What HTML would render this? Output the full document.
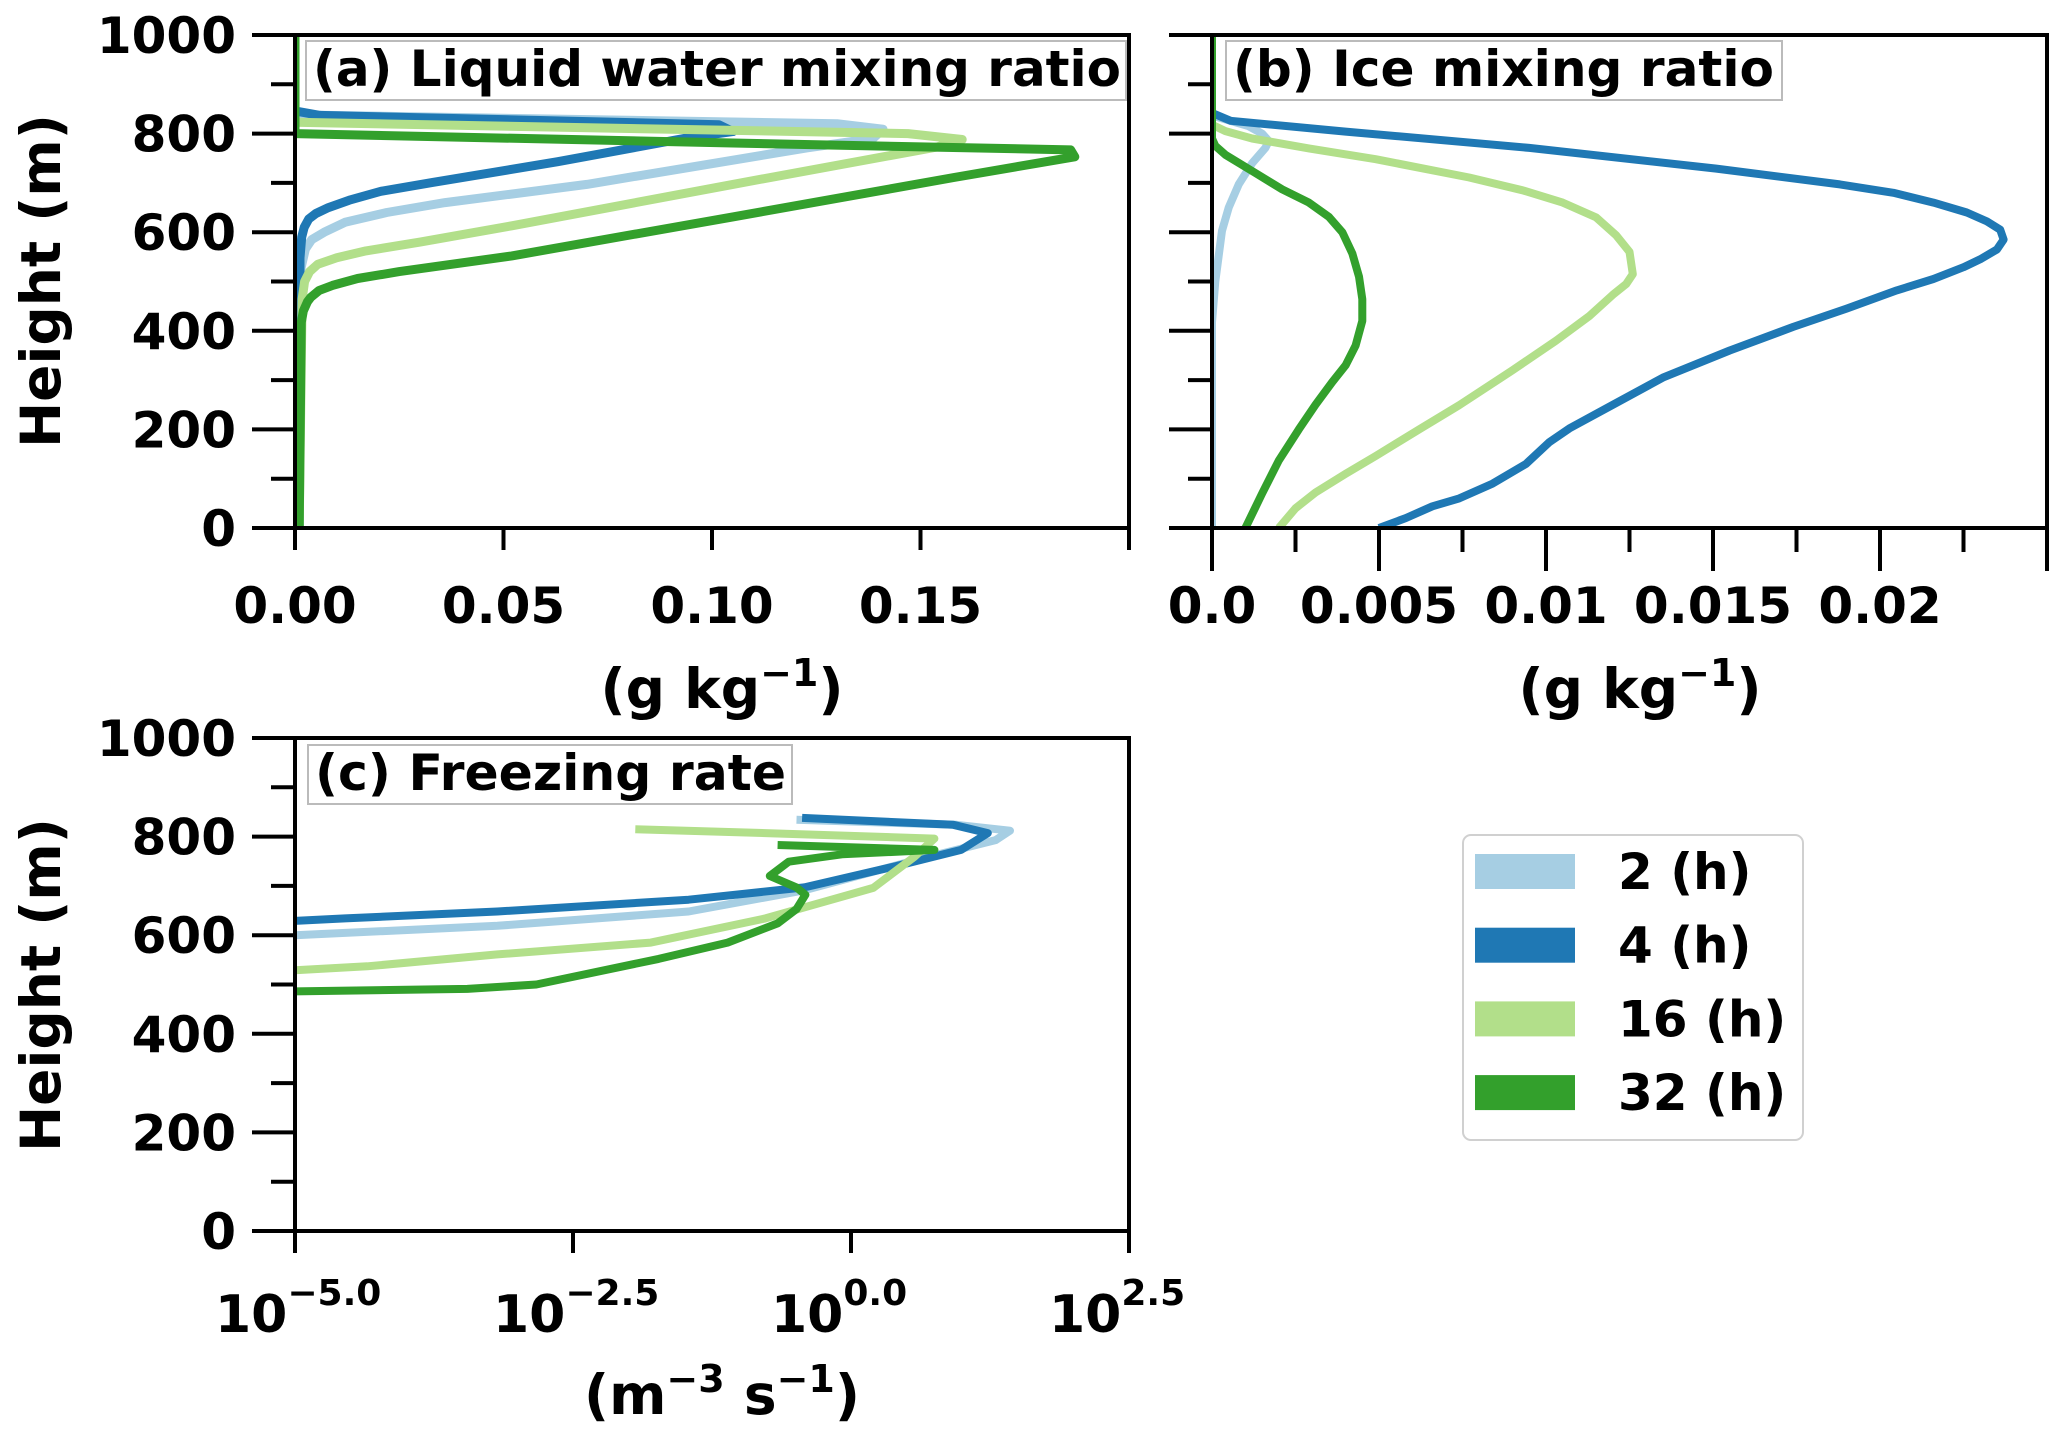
<!DOCTYPE html>
<html><head><meta charset="utf-8">
<style>
html,body{margin:0;padding:0;background:#fff;}
svg{display:block;font-family:"DejaVu Sans","Liberation Sans",sans-serif;font-weight:bold;}
</style></head>
<body>
<svg id="fig" width="2067" height="1445" viewBox="0 0 2067 1445" xmlns="http://www.w3.org/2000/svg">
<defs>
<clipPath id="clipA"><rect x="295" y="35" width="834" height="493"/></clipPath>
<clipPath id="clipB"><rect x="1212" y="35" width="835" height="493"/></clipPath>
<clipPath id="clipC"><rect x="295" y="738" width="834" height="493"/></clipPath>
</defs>
<g id="layer"></g>
</svg>
<script>
// ---------- data ----------
const seriesNames = ["2 (h)", "4 (h)", "16 (h)", "32 (h)"];
const seriesColors = ["#a6cee3", "#1f78b4", "#b2df8a", "#33a02c"];

// Panel (a) liquid water mixing ratio (g/kg) vs height (m)
const a2h_z = [1000, 838, 820, 809, 790, 771, 697, 660, 640, 620, 600, 585, 566, 530, 500, 0];
const a2h_v = [0, 0, 0.13, 0.141, 0.1386, 0.1227, 0.07, 0.036, 0.022, 0.012, 0.007, 0.004, 0.0025, 0.0015, 0.001, 0.001];
const a4h_z = [1000, 846, 837, 818, 804, 792, 743, 701, 683, 665, 650, 638, 627, 610, 590, 548, 0];
const a4h_v = [0, 0, 0.006, 0.1016, 0.105, 0.0945, 0.063, 0.033, 0.0206, 0.013, 0.008, 0.005, 0.0033, 0.0022, 0.0016, 0.0012, 0.001];
const a16h_z = [1000, 823, 800, 788, 773, 697, 613, 580, 562, 548, 535, 520, 500, 464, 0];
const a16h_v = [0, 0, 0.147, 0.16, 0.154, 0.105, 0.052, 0.03, 0.017, 0.010, 0.0055, 0.0035, 0.0023, 0.0017, 0.001];
const a32h_z = [1000, 800, 781, 767, 753, 711, 631, 552, 520, 506, 492, 482, 468, 459, 440, 417, 0];
const a32h_v = [0, 0, 0.105, 0.186, 0.187, 0.158, 0.105, 0.052, 0.025, 0.015, 0.009, 0.0058, 0.0038, 0.003, 0.002, 0.0015, 0.001];

// Panel (b) ice mixing ratio (g/kg)
const b2h_z = [1000, 837, 815, 800, 785, 771, 740, 697, 650, 603, 500, 417, 0];
const b2h_v = [0, 0, 0.0011, 0.0015, 0.0017, 0.0016, 0.0012, 0.0008, 0.0005, 0.0003, 0.0001, 0, 0];
const b4h_z = [1000, 842, 826, 804, 771, 729, 697, 680, 660, 640, 622, 605, 585, 565, 545, 529, 505, 482, 445, 408, 360, 305, 250, 202, 174, 130, 90, 60, 44, 20, 0];
const b4h_v = [0, 0, 0.00056, 0.004, 0.0095, 0.0151, 0.0188, 0.0204, 0.0216, 0.0226, 0.0232, 0.0236, 0.0237, 0.0235, 0.0230, 0.0225, 0.0216, 0.0205, 0.0190, 0.0174, 0.0155, 0.0135, 0.0120, 0.0107, 0.0101, 0.0094, 0.0084, 0.0074, 0.0066, 0.0058, 0.005];
const b16h_z = [1000, 818, 805, 790, 770, 748, 711, 685, 660, 630, 594, 560, 515, 495, 473, 430, 380, 320, 249, 200, 146, 110, 72, 40, 0];
const b16h_v = [0, 0, 0.0004, 0.0012, 0.0029, 0.0049, 0.0077, 0.0093, 0.0105, 0.0115, 0.0121, 0.0125, 0.0126, 0.0124, 0.0120, 0.0113, 0.0103, 0.0090, 0.0074, 0.0062, 0.0049, 0.0040, 0.0031, 0.0025, 0.002];
const b32h_z = [1000, 790, 775, 757, 720, 687, 660, 631, 600, 557, 510, 464, 420, 370, 330, 296, 250, 200, 137, 70, 0];
const b32h_v = [0, 0, 0.0001, 0.0004, 0.0013, 0.0021, 0.0029, 0.0035, 0.0039, 0.0042, 0.0044, 0.0045, 0.0045, 0.0043, 0.0040, 0.0036, 0.0031, 0.0026, 0.0020, 0.0015, 0.001];

// Panel (c) freezing rate, log10(m^-3 s^-1)
const c2h_z = [834, 824, 812, 793, 754, 691, 648, 619, 600];
const c2h_log = [-0.49, 0.95, 1.43, 1.30, 0.61, -0.42, -1.46, -3.18, -5];
const c4h_z = [838, 824, 807, 773, 740, 697, 672, 648, 634, 629];
const c4h_log = [-0.44, 0.92, 1.23, 0.99, 0.40, -0.42, -1.46, -3.18, -4.55, -5];
const c16h_z = [815, 807, 796, 759, 696, 634, 585, 561, 537, 529];
const c16h_log = [-1.94, -0.77, 0.75, 0.57, 0.20, -0.77, -1.80, -3.18, -4.35, -5];
const c32h_z = [783, 773, 764, 749, 720, 697, 682, 653, 624, 585, 552, 500, 491, 486];
const c32h_log = [-0.66, 0.75, -0.08, -0.56, -0.73, -0.49, -0.41, -0.49, -0.66, -1.11, -1.73, -2.83, -3.45, -5];

const yTicks = [0, 200, 400, 600, 800, 1000];
const yMinor = [100, 300, 500, 700, 900];
const aXTicks = [0, 0.05, 0.10, 0.15, 0.20];
const aXLabels = ["0.00", "0.05", "0.10", "0.15", ""];
const bXTicks = [0, 0.005, 0.01, 0.015, 0.02, 0.025];
const bXLabels = ["0.0", "0.005", "0.01", "0.015", "0.02", ""];
const bXMinor = [0.0025, 0.0075, 0.0125, 0.0175, 0.0225];
const cXTicks = [-5, -2.5, 0, 2.5];
const cXLabels = ["\u22125.0", "\u22122.5", "0.0", "2.5"];

// ---------- helpers ----------
const NS = "http://www.w3.org/2000/svg";
const layer = document.getElementById("layer");
function mk(tag, attrs, parent) {
  const e = document.createElementNS(NS, tag);
  for (const k in attrs) e.setAttribute(k, attrs[k]);
  (parent || layer).appendChild(e);
  return e;
}
function lin(d0, d1, p0, p1) { return v => p0 + (v - d0) / (d1 - d0) * (p1 - p0); }

function axes(P, name) {
  const g = mk("g", {});
  
  
  yTicks.forEach(t => {
    const l = mk("line", {x1: P.x0 - 43, x2: P.x0, y1: P.y(t), y2: P.y(t), stroke: "#000", "stroke-width": 4}, g);
    
    
    if (P.yLabels) {
      const tx = mk("text", {x: P.x0 - 59, y: P.y(t) + 18, "text-anchor": "end", "font-size": 50}, g);
      tx.textContent = String(t);
      
      
    }
  });
  yMinor.forEach(t => {
    const l = mk("line", {x1: P.x0 - 24, x2: P.x0, y1: P.y(t), y2: P.y(t), stroke: "#000", "stroke-width": 4}, g);
    
    
  });
  const r = mk("rect", {x: P.x0, y: P.yTop, width: P.x1 - P.x0, height: P.yBot - P.yTop, fill: "none", stroke: "#000", "stroke-width": 4}, g);
  
  
  return g;
}

function drawLines(P, zs, vs, clip, width, name) {
  const g = mk("g", {"clip-path": "url(#" + clip + ")"});
  
  
  zs.forEach((z, i) => {
    const pts = z.map((h, j) => P.x(vs[i][j]).toFixed(1) + "," + P.y(h).toFixed(1)).join(" ");
    const pl = mk("polyline", {points: pts, fill: "none", stroke: seriesColors[i], "stroke-width": width, "stroke-linejoin": "round", "stroke-linecap": "butt"}, g);
    
    
  });
}

function title(x, y, w, h, txt, len, name) {
  const b = mk("rect", {x: x, y: y, width: w, height: h, fill: "#fff", stroke: "#bbb", "stroke-width": 2});
  
  
  const t = mk("text", {x: x + 7, y: y + 45, "font-size": 50, textLength: len, lengthAdjust: "spacingAndGlyphs"});
  t.textContent = txt;
  
  
}

function ylabel(cy) {
  const t = mk("text", {x: 0, y: 0, "font-size": 55, "text-anchor": "middle", transform: "translate(60," + cy + ") rotate(-90)"});
  t.textContent = "Height (m)";
  
  
}

function xlabel(cx, y, main) {
  const t = mk("text", {x: cx, y: y, "font-size": 55, "text-anchor": "middle"});
  
  
  main.forEach(p => {
    const s = mk("tspan", p.sup ? {"font-size": 38, dy: -22} : (p.down ? {dy: 22} : {}), t);
    s.textContent = p.t;
  });
}

// ---------- panel a ----------
const PA = {x0: 295, x1: 1129, yTop: 35, yBot: 528, yLabels: true};
PA.x = lin(0, 0.2, PA.x0, PA.x1); PA.y = lin(0, 1000, PA.yBot, PA.yTop);
drawLines(PA, [a2h_z, a4h_z, a16h_z, a32h_z], [a2h_v, a4h_v, a16h_v, a32h_v], "clipA", 9, "panel-a");
axes(PA, "panel-a");
aXTicks.forEach((t, i) => {
  const l = mk("line", {x1: PA.x(t), x2: PA.x(t), y1: PA.yBot, y2: PA.yBot + 22, stroke: "#000", "stroke-width": 4});
  
  
  if (aXLabels[i]) {
    const tx = mk("text", {x: PA.x(t), y: 623, "text-anchor": "middle", "font-size": 50});
    tx.textContent = aXLabels[i];
    
    
  }
});
title(306, 41, 820, 59, "(a) Liquid water mixing ratio", 808, "panel-a-title");
ylabel(281);
xlabel(722, 708, [{t: "(g kg"}, {t: "\u22121", sup: true}, {t: ")", down: true}]);

// ---------- panel b ----------
const PB = {x0: 1212, x1: 2047, yTop: 35, yBot: 528, yLabels: false};
PB.x = lin(0, 0.025, PB.x0, PB.x1); PB.y = lin(0, 1000, PB.yBot, PB.yTop);
drawLines(PB, [b2h_z, b4h_z, b16h_z, b32h_z], [b2h_v, b4h_v, b16h_v, b32h_v], "clipB", 8, "panel-b");
axes(PB, "panel-b");
bXTicks.forEach((t, i) => {
  const l = mk("line", {x1: PB.x(t), x2: PB.x(t), y1: PB.yBot, y2: PB.yBot + 43, stroke: "#000", "stroke-width": 4});
  
  
  if (bXLabels[i]) {
    const tx = mk("text", {x: PB.x(t), y: 623, "text-anchor": "middle", "font-size": 50});
    tx.textContent = bXLabels[i];
    
    
  }
});
bXMinor.forEach(t => {
  const l = mk("line", {x1: PB.x(t), x2: PB.x(t), y1: PB.yBot, y2: PB.yBot + 24, stroke: "#000", "stroke-width": 4});
  
  
});
title(1226, 41, 556, 59, "(b) Ice mixing ratio", 541, "panel-b-title");
xlabel(1640, 708, [{t: "(g kg"}, {t: "\u22121", sup: true}, {t: ")", down: true}]);

// ---------- panel c ----------
const PC = {x0: 295, x1: 1129, yTop: 738, yBot: 1231, yLabels: true};
PC.x = lin(-5, 2.5, PC.x0, PC.x1); PC.y = lin(0, 1000, PC.yBot, PC.yTop);
drawLines(PC, [c2h_z, c4h_z, c16h_z, c32h_z], [c2h_log, c4h_log, c16h_log, c32h_log], "clipC", 8, "panel-c");
axes(PC, "panel-c");
cXTicks.forEach((t, i) => {
  const l = mk("line", {x1: PC.x(t), x2: PC.x(t), y1: PC.yBot, y2: PC.yBot + 22, stroke: "#000", "stroke-width": 4});
  
  
  const tx = mk("text", {x: PC.x(t) - 80, y: 1332, "font-size": 52});
  
  
  const s1 = mk("tspan", {}, tx); s1.textContent = "10";
  const s2 = mk("tspan", {"font-size": 36, dy: -27}, tx); s2.textContent = cXLabels[i];
});
title(308, 745, 484, 59, "(c) Freezing rate", 471, "panel-c-title");
ylabel(985);
xlabel(722, 1414, [{t: "(m"}, {t: "\u22123", sup: true}, {t: " s", down: true}, {t: "\u22121", sup: true}, {t: ")", down: true}]);

// ---------- legend ----------
const lg = mk("g", {});


const lbox = mk("rect", {x: 1463, y: 835, width: 340, height: 305, rx: 8, fill: "#fff", stroke: "#d0d0d0", "stroke-width": 2}, lg);


seriesNames.forEach((n, i) => {
  const cy = 871 + i * 73.7;
  const r = mk("rect", {x: 1475, y: cy - 17, width: 100, height: 35, fill: seriesColors[i]}, lg);
  
  
  const t = mk("text", {x: 1618, y: cy + 18, "font-size": 50}, lg);
  t.textContent = n;
  
  
});
</script>
</body></html>
